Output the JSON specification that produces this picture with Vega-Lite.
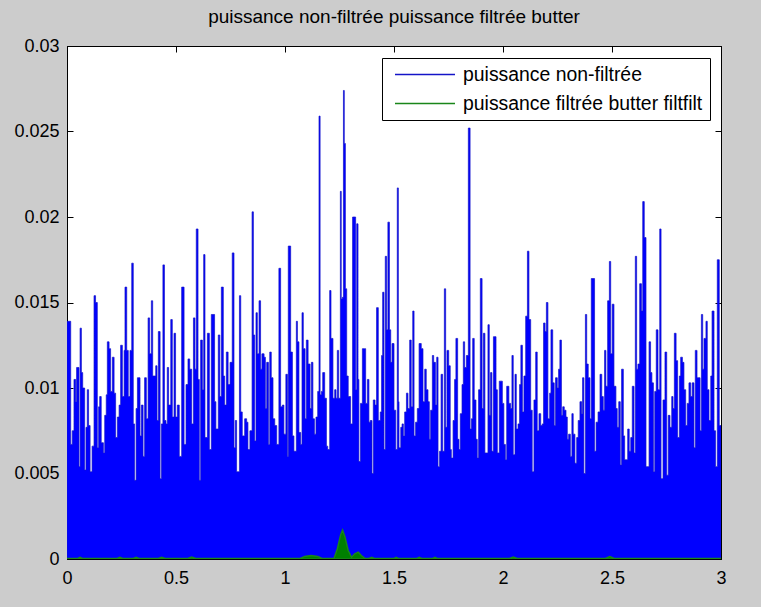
{
"$schema": "https://vega.github.io/schema/vega-lite/v6.json",
"width": 654, "height": 513,
"autosize": {"type": "none"},
"padding": {"left": 67, "top": 46, "right": 40, "bottom": 48},
"background": "#cccccc",
"config": {
 "view": {"fill": "white", "stroke": "black", "strokeWidth": 1},
 "font": "Liberation Sans",
 "axis": {"domainColor": "black", "tickColor": "black", "labelColor": "black", "labelFont": "Liberation Sans", "labelFontSize": 18, "grid": false, "tickSize": -6, "title": null, "labelFlush": false, "format": "~g"}
},
"title": {"text": "puissance non-filtrée puissance filtrée butter", "fontSize": 19, "fontWeight": "normal", "font": "Liberation Sans", "color": "black", "offset": 10, "anchor": "middle"},
"datasets": {
"bleu": [
{"f":0,"p":0.0139},{"f":0.017,"p":0.0067},{"f":0.024,"p":0.0075},{"f":0.032,"p":0.0105},{"f":0.040,"p":0.0092},{"f":0.044,"p":0.0112},{"f":0.055,"p":0.0054},{"f":0.060,"p":0.0135},{"f":0.066,"p":0.0109},{"f":0.072,"p":0.0100},{"f":0.081,"p":0.0052},{"f":0.087,"p":0.0077},{"f":0.093,"p":0.0099},{"f":0.099,"p":0.0078},{"f":0.106,"p":0.0051},{"f":0.115,"p":0.0066},{"f":0.124,"p":0.0154},{"f":0.131,"p":0.0150},{"f":0.139,"p":0.0065},{"f":0.145,"p":0.0089},{"f":0.150,"p":0.0095},{"f":0.157,"p":0.0068},{"f":0.167,"p":0.0062},{"f":0.173,"p":0.0084},{"f":0.180,"p":0.0096},{"f":0.185,"p":0.0127},{"f":0.193,"p":0.0123},{"f":0.200,"p":0.0098},{"f":0.208,"p":0.0118},{"f":0.216,"p":0.0097},{"f":0.223,"p":0.0071},{"f":0.231,"p":0.0083},{"f":0.239,"p":0.0090},{"f":0.246,"p":0.0125},{"f":0.254,"p":0.0095},{"f":0.262,"p":0.0122},{"f":0.266,"p":0.0159},{"f":0.274,"p":0.0122},{"f":0.281,"p":0.0095},{"f":0.289,"p":0.0122},{"f":0.297,"p":0.0173},{"f":0.304,"p":0.0079},{"f":0.310,"p":0.0046},{"f":0.317,"p":0.0088},{"f":0.323,"p":0.0106},{"f":0.335,"p":0.0072},{"f":0.341,"p":0.0090},{"f":0.349,"p":0.0060},{"f":0.356,"p":0.0106},{"f":0.364,"p":0.0082},{"f":0.372,"p":0.0141},{"f":0.379,"p":0.0120},{"f":0.387,"p":0.0151},{"f":0.393,"p":0.0107},{"f":0.407,"p":0.0113},{"f":0.413,"p":0.0081},{"f":0.419,"p":0.0133},{"f":0.427,"p":0.0047},{"f":0.433,"p":0.0079},{"f":0.440,"p":0.0172},{"f":0.447,"p":0.0081},{"f":0.454,"p":0.0079},{"f":0.460,"p":0.0112},{"f":0.466,"p":0.0090},{"f":0.476,"p":0.0140},{"f":0.483,"p":0.0083},{"f":0.491,"p":0.0132},{"f":0.498,"p":0.0083},{"f":0.506,"p":0.0090},
{"f":0.515,"p":0.0060},{"f":0.526,"p":0.0159},{"f":0.537,"p":0.0067},{"f":0.546,"p":0.0102},{"f":0.555,"p":0.0117},{"f":0.563,"p":0.0111},{"f":0.572,"p":0.0079},{"f":0.580,"p":0.0141},{"f":0.587,"p":0.0111},{"f":0.593,"p":0.0193},{"f":0.601,"p":0.0105},{"f":0.607,"p":0.0046},{"f":0.613,"p":0.0128},{"f":0.621,"p":0.0099},{"f":0.627,"p":0.0178},{"f":0.633,"p":0.0071},{"f":0.644,"p":0.0132},{"f":0.653,"p":0.0064},{"f":0.662,"p":0.0143},{"f":0.677,"p":0.0092},{"f":0.683,"p":0.0076},{"f":0.694,"p":0.0131},{"f":0.701,"p":0.0095},{"f":0.708,"p":0.0159},{"f":0.717,"p":0.0107},{"f":0.723,"p":0.0090},{"f":0.731,"p":0.0121},{"f":0.739,"p":0.0102},{"f":0.748,"p":0.0115},{"f":0.758,"p":0.0179},{"f":0.766,"p":0.0065},{"f":0.772,"p":0.0081},{"f":0.778,"p":0.0051},{"f":0.791,"p":0.0154},{"f":0.797,"p":0.0086},{"f":0.804,"p":0.0072},{"f":0.815,"p":0.0082},{"f":0.824,"p":0.0080},{"f":0.830,"p":0.0064},{"f":0.839,"p":0.0075},{"f":0.849,"p":0.0203},{"f":0.855,"p":0.0131},{"f":0.861,"p":0.0069},{"f":0.867,"p":0.0144},{"f":0.873,"p":0.0120},{"f":0.881,"p":0.0151},{"f":0.888,"p":0.0111},{"f":0.894,"p":0.0120},{"f":0.904,"p":0.0118},{"f":0.910,"p":0.0088},{"f":0.916,"p":0.0115},{"f":0.924,"p":0.0067},{"f":0.930,"p":0.0121},{"f":0.937,"p":0.0106},{"f":0.945,"p":0.0082},{"f":0.953,"p":0.0078},{"f":0.962,"p":0.0067},{"f":0.972,"p":0.0170},{"f":0.980,"p":0.0089},{"f":0.988,"p":0.0090},{"f":0.995,"p":0.0073},{"f":1.004,"p":0.0108},{"f":1.011,"p":0.0060},{"f":1.015,"p":0.0183},
{"f":1.026,"p":0.0121},{"f":1.034,"p":0.0072},{"f":1.041,"p":0.0063},{"f":1.052,"p":0.0139},{"f":1.057,"p":0.0127},{"f":1.064,"p":0.0074},{"f":1.072,"p":0.0067},{"f":1.078,"p":0.0144},{"f":1.084,"p":0.0123},{"f":1.092,"p":0.0082},{"f":1.098,"p":0.0128},{"f":1.106,"p":0.0114},{"f":1.115,"p":0.0088},{"f":1.121,"p":0.0115},{"f":1.128,"p":0.0082},{"f":1.135,"p":0.0073},{"f":1.142,"p":0.0083},{"f":1.150,"p":0.0098},{"f":1.156,"p":0.0259},{"f":1.161,"p":0.0096},{"f":1.167,"p":0.0098},{"f":1.173,"p":0.0109},{"f":1.182,"p":0.0094},{"f":1.190,"p":0.0066},{"f":1.196,"p":0.0064},{"f":1.205,"p":0.0157},{"f":1.211,"p":0.0129},{"f":1.220,"p":0.0094},{"f":1.228,"p":0.0099},{"f":1.234,"p":0.0094},{"f":1.240,"p":0.0122},{"f":1.246,"p":0.0094},{"f":1.254,"p":0.0215},{"f":1.258,"p":0.0152},{"f":1.263,"p":0.0153},{"f":1.268,"p":0.0274},{"f":1.272,"p":0.0243},{"f":1.277,"p":0.0158},{"f":1.283,"p":0.0107},{"f":1.290,"p":0.0095},{"f":1.301,"p":0.0079},{"f":1.310,"p":0.0200},{"f":1.316,"p":0.0200},{"f":1.324,"p":0.0099},{"f":1.329,"p":0.0196},{"f":1.335,"p":0.0105},{"f":1.339,"p":0.0057},{"f":1.346,"p":0.0091},{"f":1.355,"p":0.0123},{"f":1.364,"p":0.0123},{"f":1.370,"p":0.0091},{"f":1.378,"p":0.0105},{"f":1.385,"p":0.0080},{"f":1.391,"p":0.0081},{"f":1.399,"p":0.0050},{"f":1.405,"p":0.0093},{"f":1.413,"p":0.0090},{"f":1.420,"p":0.0147},{"f":1.428,"p":0.0081},{"f":1.437,"p":0.0086},{"f":1.443,"p":0.0119},{"f":1.448,"p":0.0156},{"f":1.454,"p":0.0064},{"f":1.460,"p":0.0177},{"f":1.466,"p":0.0134},{"f":1.472,"p":0.0197},{"f":1.479,"p":0.0134},{"f":1.485,"p":0.0115},{"f":1.491,"p":0.0126},{"f":1.500,"p":0.0087},{"f":1.508,"p":0.0064},{"f":1.515,"p":0.0217},{"f":1.520,"p":0.0092},
{"f":1.523,"p":0.0065},{"f":1.531,"p":0.0077},{"f":1.537,"p":0.0079},{"f":1.543,"p":0.0072},{"f":1.549,"p":0.0086},{"f":1.557,"p":0.0097},{"f":1.564,"p":0.0088},{"f":1.572,"p":0.0128},{"f":1.579,"p":0.0089},{"f":1.586,"p":0.0145},{"f":1.592,"p":0.0072},{"f":1.599,"p":0.0080},{"f":1.607,"p":0.0088},{"f":1.615,"p":0.0126},{"f":1.625,"p":0.0123},{"f":1.633,"p":0.0092},{"f":1.641,"p":0.0111},{"f":1.648,"p":0.0099},{"f":1.656,"p":0.0092},{"f":1.662,"p":0.0070},{"f":1.668,"p":0.0087},{"f":1.676,"p":0.0119},{"f":1.682,"p":0.0115},{"f":1.690,"p":0.0090},{"f":1.696,"p":0.0118},{"f":1.702,"p":0.0054},{"f":1.709,"p":0.0063},{"f":1.716,"p":0.0108},{"f":1.723,"p":0.0063},{"f":1.731,"p":0.0158},{"f":1.737,"p":0.0077},{"f":1.743,"p":0.0122},{"f":1.751,"p":0.0113},{"f":1.758,"p":0.0064},{"f":1.763,"p":0.0059},{"f":1.771,"p":0.0081},{"f":1.778,"p":0.0105},{"f":1.784,"p":0.0129},{"f":1.792,"p":0.0070},{"f":1.798,"p":0.0064},{"f":1.804,"p":0.0085},{"f":1.812,"p":0.0102},{"f":1.818,"p":0.0127},{"f":1.824,"p":0.0112},{"f":1.832,"p":0.0119},{"f":1.841,"p":0.0252},{"f":1.849,"p":0.0076},{"f":1.855,"p":0.0082},{"f":1.861,"p":0.0129},{"f":1.868,"p":0.0093},{"f":1.876,"p":0.0070},{"f":1.882,"p":0.0059},{"f":1.888,"p":0.0099},{"f":1.896,"p":0.0164},{"f":1.904,"p":0.0088},{"f":1.910,"p":0.0132},{"f":1.917,"p":0.0062},{"f":1.931,"p":0.0137},{"f":1.937,"p":0.0084},{"f":1.943,"p":0.0109},{"f":1.949,"p":0.0063},{"f":1.956,"p":0.0130},{"f":1.968,"p":0.0099},{"f":1.974,"p":0.0062},{"f":1.983,"p":0.0104},{"f":1.997,"p":0.0091},{"f":2.004,"p":0.0067},{"f":2.011,"p":0.0058},{"f":2.017,"p":0.0101},
{"f":2.027,"p":0.0091},{"f":2.035,"p":0.0088},{"f":2.041,"p":0.0119},{"f":2.047,"p":0.0061},{"f":2.055,"p":0.0108},{"f":2.061,"p":0.0076},{"f":2.069,"p":0.0079},{"f":2.076,"p":0.0102},{"f":2.082,"p":0.0125},{"f":2.089,"p":0.0086},{"f":2.096,"p":0.0107},{"f":2.104,"p":0.0142},{"f":2.112,"p":0.0180},{"f":2.119,"p":0.0140},{"f":2.127,"p":0.0087},{"f":2.134,"p":0.0051},{"f":2.142,"p":0.0093},{"f":2.150,"p":0.0121},{"f":2.157,"p":0.0075},{"f":2.165,"p":0.0085},{"f":2.173,"p":0.0078},{"f":2.180,"p":0.0079},{"f":2.186,"p":0.0138},{"f":2.193,"p":0.0133},{"f":2.199,"p":0.0150},{"f":2.206,"p":0.0082},{"f":2.214,"p":0.0097},{"f":2.220,"p":0.0134},{"f":2.228,"p":0.0103},{"f":2.235,"p":0.0078},{"f":2.241,"p":0.0106},{"f":2.249,"p":0.0100},{"f":2.255,"p":0.0111},{"f":2.261,"p":0.0128},{"f":2.268,"p":0.0084},{"f":2.274,"p":0.0089},{"f":2.281,"p":0.0087},{"f":2.289,"p":0.0083},{"f":2.295,"p":0.0070},{"f":2.301,"p":0.0073},{"f":2.309,"p":0.0060},{"f":2.316,"p":0.0085},{"f":2.322,"p":0.0073},{"f":2.330,"p":0.0056},{"f":2.338,"p":0.0071},{"f":2.345,"p":0.0081},{"f":2.353,"p":0.0092},{"f":2.361,"p":0.0085},{"f":2.365,"p":0.0106},{"f":2.371,"p":0.0050},{"f":2.378,"p":0.0143},{"f":2.384,"p":0.0114},{"f":2.391,"p":0.0106},{"f":2.399,"p":0.0082},{"f":2.405,"p":0.0164},{"f":2.420,"p":0.0063},{"f":2.427,"p":0.0080},{"f":2.436,"p":0.0086},{"f":2.445,"p":0.0108},{"f":2.453,"p":0.0095},{"f":2.460,"p":0.0087},{"f":2.466,"p":0.0122},{"f":2.472,"p":0.0101},{"f":2.480,"p":0.0151},{"f":2.488,"p":0.0174},{"f":2.494,"p":0.0120},{"f":2.501,"p":0.0149},{"f":2.509,"p":0.0101},{"f":2.518,"p":0.0088},
{"f":2.524,"p":0.0077},{"f":2.531,"p":0.0092},{"f":2.538,"p":0.0055},{"f":2.544,"p":0.0111},{"f":2.552,"p":0.0072},{"f":2.558,"p":0.0058},{"f":2.572,"p":0.0076},{"f":2.579,"p":0.0063},{"f":2.586,"p":0.0071},{"f":2.593,"p":0.0101},{"f":2.601,"p":0.0062},{"f":2.607,"p":0.0177},{"f":2.613,"p":0.0111},{"f":2.619,"p":0.0114},{"f":2.627,"p":0.0161},{"f":2.635,"p":0.0145},{"f":2.641,"p":0.0209},{"f":2.648,"p":0.0188},{"f":2.656,"p":0.0054},{"f":2.670,"p":0.0127},{"f":2.677,"p":0.0109},{"f":2.683,"p":0.0103},{"f":2.690,"p":0.0051},{"f":2.696,"p":0.0098},{"f":2.703,"p":0.0134},{"f":2.711,"p":0.0099},{"f":2.719,"p":0.0193},{"f":2.725,"p":0.0047},{"f":2.734,"p":0.0093},{"f":2.743,"p":0.0121},{"f":2.751,"p":0.0049},{"f":2.758,"p":0.0084},{"f":2.766,"p":0.0077},{"f":2.774,"p":0.0095},{"f":2.780,"p":0.0088},{"f":2.786,"p":0.0132},{"f":2.794,"p":0.0116},{"f":2.801,"p":0.0071},{"f":2.809,"p":0.0107},{"f":2.815,"p":0.0118},{"f":2.823,"p":0.0115},{"f":2.830,"p":0.0099},{"f":2.838,"p":0.0078},{"f":2.845,"p":0.0091},{"f":2.853,"p":0.0103},{"f":2.861,"p":0.0095},{"f":2.868,"p":0.0103},{"f":2.876,"p":0.0065},{"f":2.882,"p":0.0122},{"f":2.890,"p":0.0106},{"f":2.904,"p":0.0075},{"f":2.910,"p":0.0143},{"f":2.916,"p":0.0111},{"f":2.922,"p":0.0129},{"f":2.931,"p":0.0139},{"f":2.937,"p":0.0099},{"f":2.945,"p":0.0081},{"f":2.953,"p":0.0107},{"f":2.959,"p":0.0145},{"f":2.968,"p":0.0075},{"f":2.975,"p":0.0054},{"f":2.983,"p":0.0175},{"f":2.992,"p":0.0078},{"f":3.0,"p":0.0078}
],
"vert": [
{"f":0,"g":0.00003},{"f":0.05,"g":0.00003},{"f":0.06,"g":0.0001},{"f":0.07,"g":0.00003},{"f":0.23,"g":0.00003},{"f":0.243,"g":0.0001},{"f":0.255,"g":0.00003},{"f":0.305,"g":0.00003},{"f":0.317,"g":0.0001},{"f":0.33,"g":0.00003},{"f":0.42,"g":0.00003},{"f":0.434,"g":0.0001},{"f":0.45,"g":0.00003},{"f":0.555,"g":0.00003},{"f":0.572,"g":0.00012},{"f":0.59,"g":0.00003},{"f":1.07,"g":0.00003},{"f":1.09,"g":0.00015},{"f":1.12,"g":0.0002},{"f":1.15,"g":0.00015},{"f":1.17,"g":0.00003},{"f":1.225,"g":0.00005},{"f":1.24,"g":0.0006},{"f":1.255,"g":0.0014},{"f":1.264,"g":0.0017},{"f":1.275,"g":0.0013},{"f":1.29,"g":0.0005},{"f":1.305,"g":0.0001},{"f":1.32,"g":0.0003},{"f":1.336,"g":0.0004},{"f":1.35,"g":0.0002},{"f":1.365,"g":0.00005},{"f":1.385,"g":0.00003},{"f":1.398,"g":0.0001},{"f":1.41,"g":0.00003},{"f":1.5,"g":0.00003},{"f":1.509,"g":0.0001},{"f":1.52,"g":0.00003},{"f":1.605,"g":0.00003},{"f":1.616,"g":0.0001},{"f":1.627,"g":0.00003},{"f":1.678,"g":0.00003},{"f":1.688,"g":0.0001},{"f":1.698,"g":0.00003},{"f":2.03,"g":0.00003},{"f":2.047,"g":0.00012},{"f":2.065,"g":0.00003},{"f":2.47,"g":0.00003},{"f":2.49,"g":0.00015},{"f":2.51,"g":0.00003},{"f":3,"g":0.00003}
]
},
"layer": [
 {
  "data": {"name": "bleu"},
  "mark": {"type": "area", "interpolate": "step-after", "strokeWidth": 0.7, "clip": true},
  "encoding": {
   "x": {"field": "f", "type": "quantitative", "scale": {"domain": [0, 3], "nice": false, "zero": false}, "axis": {"orient": "bottom", "values": [0, 0.5, 1, 1.5, 2, 2.5, 3], "labelPadding": 16}},
   "y": {"field": "p", "type": "quantitative", "scale": {"domain": [0, 0.03], "nice": false}, "axis": {"orient": "left", "values": [0, 0.005, 0.01, 0.015, 0.02, 0.025, 0.03], "labelPadding": 14}},
   "fill": {"datum": "puissance non-filtrée", "scale": {"domain": ["puissance non-filtrée", "puissance filtrée butter filtfilt"], "range": ["#0000ff", "#008000"]},
     "legend": {"orient": "none", "legendX": 315, "legendY": 12, "title": null, "strokeColor": "black", "fillColor": "white", "padding": 7, "symbolType": "stroke", "symbolSize": 3600, "symbolStrokeWidth": 1.5, "symbolOffset": 5, "labelFontSize": 19.4, "labelFont": "Liberation Sans", "labelColor": "black", "labelOffset": 7, "labelLimit": 500, "clipHeight": 19, "rowPadding": 9}},
   "stroke": {"datum": "puissance non-filtrée", "scale": {"domain": ["puissance non-filtrée", "puissance filtrée butter filtfilt"], "range": ["#1414c8", "#1a861a"]},
     "legend": {"orient": "none", "legendX": 315, "legendY": 12, "title": null, "strokeColor": "black", "fillColor": "white", "padding": 7, "symbolType": "stroke", "symbolSize": 3600, "symbolStrokeWidth": 1.5, "symbolOffset": 5, "labelFontSize": 19.4, "labelFont": "Liberation Sans", "labelColor": "black", "labelOffset": 7, "labelLimit": 500, "clipHeight": 19, "rowPadding": 9}}
  }
 },
 {
  "data": {"name": "vert"},
  "mark": {"type": "area", "interpolate": "linear", "strokeWidth": 1.4, "clip": true},
  "encoding": {
   "x": {"field": "f", "type": "quantitative", "axis": {"orient": "top", "values": [0, 0.5, 1, 1.5, 2, 2.5, 3], "labels": false}},
   "y": {"field": "g", "type": "quantitative", "axis": {"orient": "right", "values": [0, 0.005, 0.01, 0.015, 0.02, 0.025, 0.03], "labels": false}},
   "fill": {"datum": "puissance filtrée butter filtfilt"},
   "stroke": {"datum": "puissance filtrée butter filtfilt"}
  }
 }
],
"resolve": {"axis": {"x": "independent", "y": "independent"}}
}
